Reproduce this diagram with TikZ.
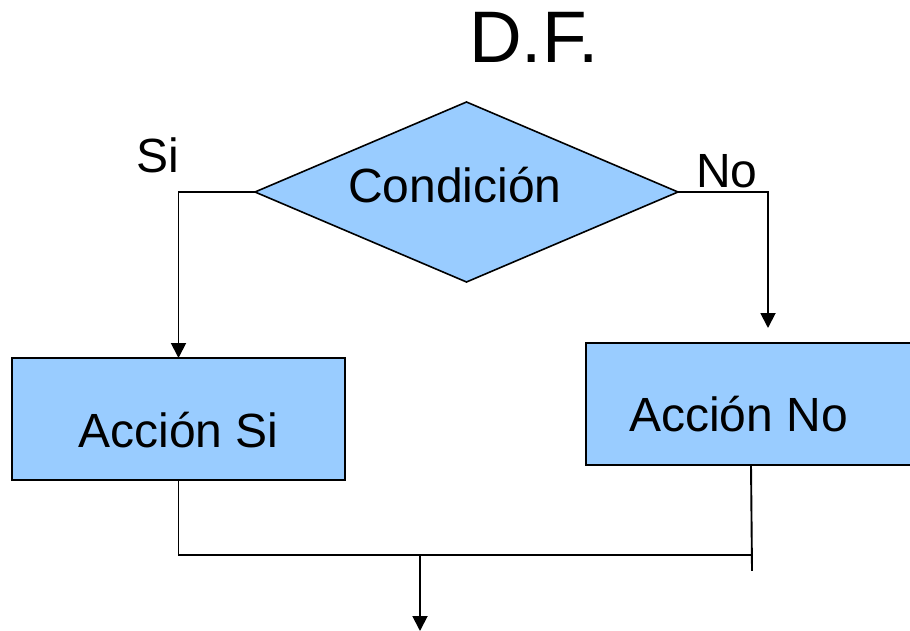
\documentclass[tikz,border=0pt]{standalone}
\usepackage{fontspec}
\setmainfont{Liberation Sans}
\usetikzlibrary{shapes.geometric,arrows.meta}
\definecolor{boxblue}{HTML}{99CCFF}
\begin{document}
\begin{tikzpicture}[x=1pt,y=-1pt,
  flowbox/.style={draw=black,line width=2.2pt,fill=boxblue,rectangle,inner sep=0pt,outer sep=0pt},
  decision/.style={draw=black,line width=1.6pt,fill=boxblue,diamond,inner sep=0pt,outer sep=0pt,
    minimum width=423pt,minimum height=180pt},
  txt/.style={font=\fontsize{48}{56}\selectfont,anchor=base,inner sep=0pt},
  conn/.style={line width=1.9pt,line cap=rect},
  flow/.style={conn,-{Triangle[length=15pt,width=15pt]}}]
\useasboundingbox (0,0) rectangle (910,631);

% title
\node[font=\fontsize{73}{80}\selectfont,anchor=base,inner sep=0pt] (title) at (534,63) {D.F.};

% decision
\node[decision] (cond) at (466.5,192) {};
\node[txt] (condtxt) at (455,203) {Condición};
\node[txt] (si) at (158,173) {Si};
\node[txt] (no) at (727,188) {No};

% action boxes
\node[flowbox,minimum width=333pt,minimum height=122pt] (accsi) at (178.5,419) {};
\node[txt] (accsitxt) at (178.5,447) {Acción Si};
\node[flowbox,minimum width=330pt,minimum height=122pt] (accno) at (751,404) {};
\node[txt] (accnotxt) at (738.5,431) {Acción No};

% free ends and junctions
\coordinate (noend) at (768,328);
\coordinate (joinR) at (752,555);
\coordinate (tailR) at (752,570);
\coordinate (joinM) at (420,555);
\coordinate (out) at (420,631);

% connectors
\draw[flow] (cond.west) -| (accsi.north);
\draw[flow] (cond.east) -| (noend);
\draw[conn] (accsi.south) |- (joinR);
\draw[conn] (accno.south) -- (tailR);
\draw[flow] (joinM) -- (out);
\end{tikzpicture}
\end{document}
